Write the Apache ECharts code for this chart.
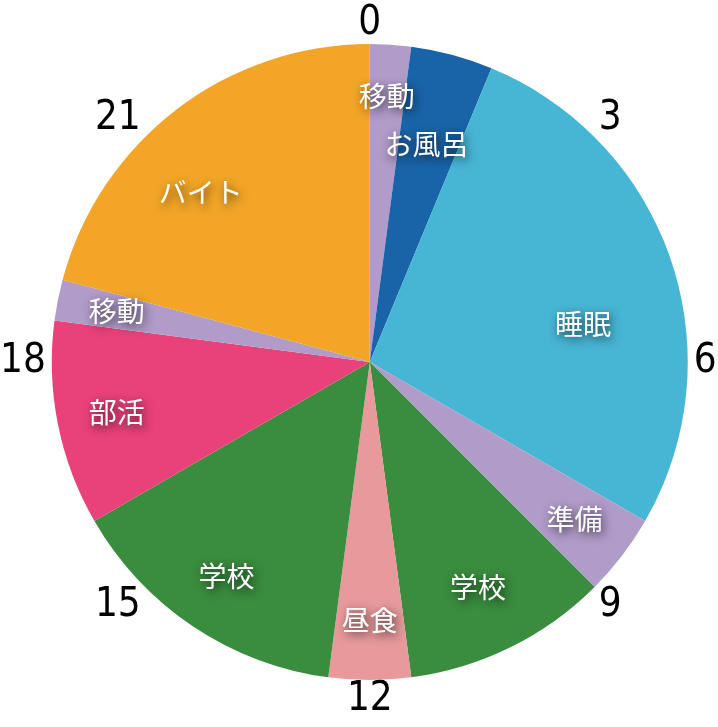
<!DOCTYPE html>
<html>
<head>
<meta charset="utf-8">
<script src="https://cdn.jsdelivr.net/npm/echarts@6/dist/echarts.min.js"></script>
<style>
html, body { margin: 0; padding: 0; background: #fff; }
#main { width: 718px; height: 727px; }
</style>
</head>
<body>
<div id="main"></div>
<script>
// 一日のスケジュール（時間）
var activities = ['移動', 'お風呂', '睡眠', '準備', '学校', '昼食', '学校', '部活', '移動', 'バイト'];
var hours      = [0.5, 1, 6.5, 1, 2.5, 1, 3.5, 2.5, 0.5, 5];
var sliceColors = ['#B09BC9', '#1963A8', '#47B5D4', '#B09BC9', '#3A8C3E', '#E8999B', '#3A8C3E', '#E9417A', '#B09BC9', '#F2A526'];
// 時計の目盛り
var hourTicks  = [0, 3, 6, 9, 12, 15, 18, 21];
var hourLabels = ['0', '3', '6', '9', '12', '15', '18', '21'];

var CENTER = ['51.5%', '49.8%'];
var R = 318;

// ラベルの微調整
var labelShift = { 0: [0, -8], 1: [-10, 32], 2: [-31, 45], 4: [-6, -6], 9: [-12, 35] };

var myChart = echarts.init(document.getElementById('main'));

var pieData = activities.map(function (name, i) {
	return { name: name, value: hours[i], itemStyle: { color: sliceColors[i] } };
});

option = {
	animation: false,
	polar: { center: CENTER, radius: R },
	radiusAxis: { show: false },
	angleAxis: {
		type: 'value',
		min: 0,
		max: 24,
		interval: 3,
		startAngle: 90,
		clockwise: true,
		axisLine: { show: false },
		axisTick: { show: false },
		splitLine: { show: false },
		axisLabel: {
			margin: 6,
			lineHeight: 28,
			color: '#000',
			fontSize: 40,
			fontWeight: 'condensed',
			fontFamily: '"DejaVu Sans Condensed", "Liberation Sans Narrow", sans-serif',
			formatter: function (v) {
				var idx = hourTicks.indexOf(v);
				return idx < 0 ? '' : hourLabels[idx];
			}
		}
	},
	series: [{
		// 本体
		type: 'pie',
		center: CENTER,
		radius: [0, R],
		startAngle: 90,
		clockwise: true,
		silent: true,
		label: { show: false },
		labelLine: { show: false },
		data: pieData
	}, {
		// ラベル用（透明）
		type: 'pie',
		center: CENTER,
		radius: [192, R],
		startAngle: 90,
		clockwise: true,
		silent: true,
		itemStyle: { color: 'rgba(0,0,0,0)' },
		label: {
			show: true,
			position: 'inside',
			color: '#fff',
			fontSize: 28,
			fontFamily: '"Noto Sans CJK JP", sans-serif',
			textShadowColor: 'rgba(0,0,0,0.7)',
			textShadowBlur: 10,
			textShadowOffsetX: 2,
			textShadowOffsetY: 3
		},
		labelLine: { show: false },
		labelLayout: function (params) {
			var s = labelShift[params.dataIndex];
			return s ? { dx: s[0], dy: s[1] } : {};
		},
		data: activities.map(function (name, i) {
			return { name: name, value: hours[i] };
		})
	}]
};

myChart.setOption(option);
</script>
</body>
</html>
